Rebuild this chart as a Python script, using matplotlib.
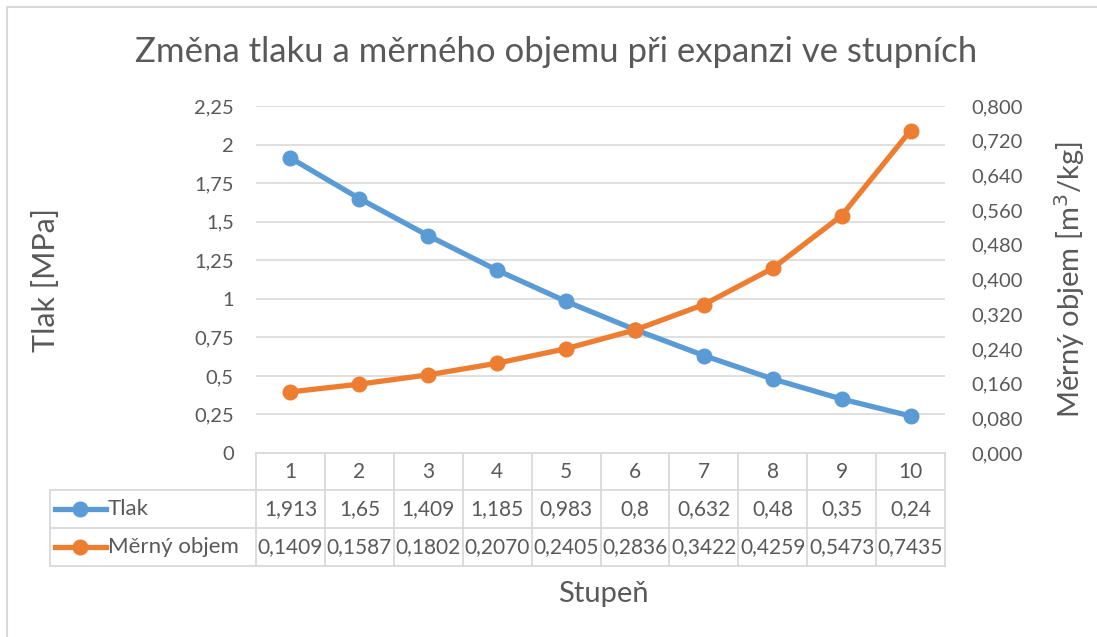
import matplotlib.pyplot as plt
from matplotlib.lines import Line2D
from matplotlib.patches import Rectangle
from matplotlib.ticker import FuncFormatter, MultipleLocator

plt.rcParams['font.family'] = ['Lato', 'DejaVu Sans']

stupen = [1, 2, 3, 4, 5, 6, 7, 8, 9, 10]
tlak = [1.913, 1.65, 1.409, 1.185, 0.983, 0.8, 0.632, 0.48, 0.35, 0.24]
objem = [0.1409, 0.1587, 0.1802, 0.2070, 0.2405, 0.2836, 0.3422, 0.4259, 0.5473, 0.7435]
series_names = ['Tlak', 'Měrný objem']

c_blue = '#5B9BD5'
c_orange = '#ED7D31'
c_text = '#595959'
c_grid = '#D9D9D9'

W, H = 1097, 637
fig = plt.figure(figsize=(W / 100, H / 100), dpi=100)

# pixel -> figure coords
def fx(px):
    return px / W

def fy(py):
    return 1 - py / H

x0, x1, y0, y1 = 256, 945, 106, 453
ax = fig.add_axes([fx(x0), fy(y1), fx(x1) - fx(x0), fy(y0) - fy(y1)])
ax2 = ax.twinx()

ax.plot(stupen, tlak, color=c_blue, lw=3.8, marker='o', ms=10.5, zorder=3)
ax2.plot(stupen, objem, color=c_orange, lw=3.8, marker='o', ms=10.5, zorder=3)

ax.set_xlim(0.5, 10.5)
ax.set_ylim(0, 2.25)
ax2.set_ylim(0, 0.8)
ax.yaxis.set_major_locator(MultipleLocator(0.25))
ax2.yaxis.set_major_locator(MultipleLocator(0.08))
ax.yaxis.set_major_formatter(FuncFormatter(lambda v, p: f'{v:g}'.replace('.', ',')))
ax2.yaxis.set_major_formatter(FuncFormatter(lambda v, p: f'{v:.3f}'.replace('.', ',')))
ax.set_xticks([])
ax.grid(axis='y', color=c_grid, lw=1.2)
for a in (ax, ax2):
    for s in a.spines.values():
        s.set_visible(False)
    a.tick_params(axis='y', length=0, labelsize=14.5, labelcolor=c_text)
ax.tick_params(axis='y', pad=16)
ax2.tick_params(axis='y', pad=19)

ax.set_ylabel('Tlak [MPa]', fontsize=22, color=c_text)
ax2.set_ylabel('Měrný objem [m$^3$/kg]', fontsize=21, color=c_text)
ax.yaxis.set_label_coords((60 - x0) / (x1 - x0), 0.5)
ax2.yaxis.set_label_coords((1052 - x0) / (x1 - x0), 0.5)

fig.text(fx(556), fy(52), 'Změna tlaku a měrného objemu při expanzi ve stupních',
         ha='center', va='center', fontsize=25, color=c_text)
fig.text(fx(603), fy(594), 'Stupeň', ha='center', va='center', fontsize=21, color=c_text)

# data table under the plot
rows = [453, 490, 528, 566]
col_w = (x1 - x0) / len(stupen)
lx = 50
lc = '#D9D9D9'

def hline(xa, xb, py):
    fig.add_artist(Line2D([fx(xa), fx(xb)], [fy(py), fy(py)], color=lc, lw=1.3))

def vline(px, ya, yb):
    fig.add_artist(Line2D([fx(px), fx(px)], [fy(ya), fy(yb)], color=lc, lw=1.3))

hline(x0, x1, rows[0])
for r in rows[1:]:
    hline(lx, x1, r)
vline(lx, rows[1], rows[3])
for i in range(len(stupen) + 1):
    vline(x0 + i * col_w, rows[0], rows[3])

cells = [[str(s) for s in stupen],
         [f'{v:g}'.replace('.', ',') for v in tlak],
         [f'{v:.4f}'.replace('.', ',') for v in objem]]
for r, row in enumerate(cells):
    yc = (rows[r] + rows[r + 1]) / 2
    for i, txt in enumerate(row):
        fig.text(fx(x0 + (i + 0.5) * col_w), fy(yc), txt, ha='center', va='center',
                 fontsize=15, color=c_text)

for r, (name, col) in enumerate(zip(series_names, [c_blue, c_orange])):
    yc = (rows[r + 1] + rows[r + 2]) / 2
    fig.add_artist(Line2D([fx(55), fx(106)], [fy(yc), fy(yc)], color=col, lw=3.8))
    fig.add_artist(Line2D([fx(80)], [fy(yc)], color=col, marker='o', ms=10.5, lw=0))
    fig.text(fx(108), fy(yc), name, ha='left', va='center', fontsize=16, color=c_text)

# chart border
fig.add_artist(Rectangle((fx(7), fy(H + 10)), 1.2, fy(7) - fy(H + 10), fill=False,
                         edgecolor='#D9D9D9', lw=1.5, transform=fig.transFigure))

fig.savefig('out.png', dpi=100)
